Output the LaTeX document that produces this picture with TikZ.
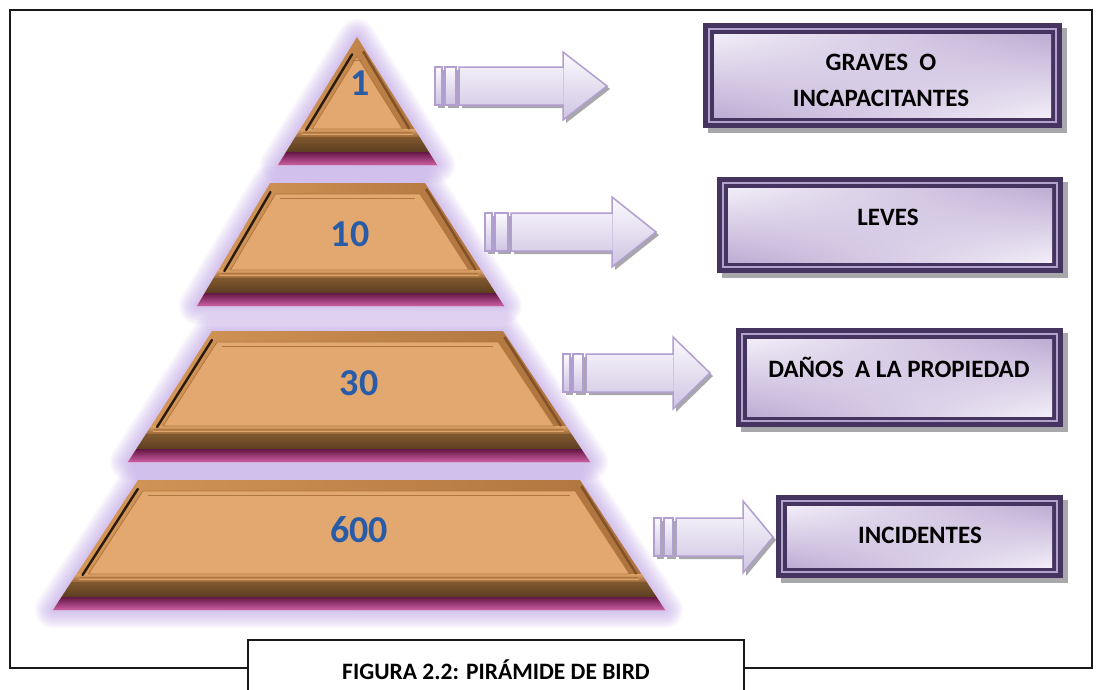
\documentclass[tikz,border=0pt]{standalone}
\usepackage{fontspec}
\setmainfont{Carlito}
\usetikzlibrary{calc,shadings}

\definecolor{glowc}{RGB}{180,145,228}
\definecolor{framelt}{RGB}{214,152,90}
\definecolor{framedk}{RGB}{172,114,60}
\definecolor{ledgetop}{RGB}{222,164,104}
\definecolor{ledgebot}{RGB}{150,100,55}
\definecolor{panelc}{RGB}{226,168,112}
\definecolor{panelln}{RGB}{176,118,64}
\definecolor{bandtop}{RGB}{128,88,46}
\definecolor{bandbot}{RGB}{92,62,34}
\definecolor{magtop}{RGB}{100,22,68}
\definecolor{magbot}{RGB}{205,95,165}
\definecolor{groove}{RGB}{40,26,12}
\definecolor{rightln}{RGB}{130,82,40}
\definecolor{numblue}{RGB}{40,92,168}
\definecolor{arrln}{RGB}{178,158,208}
\definecolor{arrtop}{RGB}{252,250,254}
\definecolor{arrbot}{RGB}{206,196,226}
\definecolor{shadowc}{RGB}{168,168,172}
\definecolor{boxdark}{RGB}{70,52,96}
\definecolor{boxgap}{RGB}{178,162,204}
\definecolor{boxlt}{RGB}{242,238,248}
\definecolor{boxdk}{RGB}{190,172,212}
\definecolor{linec}{RGB}{25,25,25}

\tikzset{
  numtxt/.style={font=\bfseries\fontsize{38}{38}\selectfont, text=numblue, inner sep=0pt},
  boxtxt/.style={font=\bfseries\fontsize{25}{36}\selectfont, text=black, align=center, inner sep=0pt},
  captxt/.style={font=\bfseries\fontsize{23.5}{28}\selectfont, text=black, draw=linec, line width=1.1pt,
                 minimum width=496pt, minimum height=60pt, inner sep=0pt},
  arrowbody/.style={top color=arrtop, bottom color=arrbot, draw=arrln, line width=1.5pt},
  arrowshadow/.style={fill=shadowc},
  framestroke/.style={draw=linec, line width=1.1pt},
  boxframe/.style={inner sep=0pt, draw=none},
}

% #1 name #2 TLx #3 TRx #4 BLx #5 BRx #6 top y #7 bottom y
\newcommand\pyrtier[7]{%
  \pgfmathsetmacro\sL{(#4-#2)/(#7-#6)}%
  \pgfmathsetmacro\sR{(#5-#3)/(#7-#6)}%
  \pgfmathsetmacro\yM{#7-13}%
  \pgfmathsetmacro\yB{#7-28}%
  \pgfmathsetmacro\yP{#7-36}%
  \pgfmathsetmacro\yT{#6+max(11,(24-(#3-#2))/(\sR-\sL))}%
  \pgfmathsetmacro\lM{#4-(\sL)*13}\pgfmathsetmacro\rM{#5-(\sR)*13}%
  \pgfmathsetmacro\lB{#4-(\sL)*28}\pgfmathsetmacro\rB{#5-(\sR)*28}%
  \pgfmathsetmacro\lP{#4-(\sL)*36}\pgfmathsetmacro\rP{#5-(\sR)*36}%
  \pgfmathsetmacro\lPb{\lP+12}\pgfmathsetmacro\rPb{\rP-12}%
  \pgfmathsetmacro\lPt{#4-(\sL)*(#7-\yT)+12}\pgfmathsetmacro\rPt{#5-(\sR)*(#7-\yT)-12}%
  \coordinate (#1-tl) at (#2,#6);
  \coordinate (#1-tr) at (#3,#6);
  \coordinate (#1-bl) at (#4,#7);
  \coordinate (#1-br) at (#5,#7);
  \foreach \w in {36,32,28,24,20,16,12,8,5}{%
    \draw[glowc, line width=\w pt, opacity=0.075, line join=round] (#1-tl)--(#1-tr)--(#1-br)--(#1-bl)--cycle;}
  \shade[left color=framelt, right color=framedk] (#1-tl)--(#1-tr)--(#1-br)--(#1-bl)--cycle;
  \shade[top color=ledgetop, bottom color=ledgebot] (\lP,\yP)--(\rP,\yP)--(\rB,\yB)--(\lB,\yB)--cycle;
  \draw[panelln, line width=1pt] (\lP+3,\yP+3)--(\rP-3,\yP+3);
  \draw[ledgetop, line width=0.8pt] (\lP+2,\yP+5)--(\rP-2,\yP+5);
  \shade[top color=bandtop, bottom color=bandbot] (\lB,\yB)--(\rB,\yB)--(\rM,\yM)--(\lM,\yM)--cycle;
  \shade[top color=magtop, bottom color=magbot] (\lM,\yM)--(\rM,\yM)--(#1-br)--(#1-bl)--cycle;
  \draw[rightln, line width=2.5pt] (\rPt+6,\yT-5)--(\rPb+7,\yP);
  \fill[panelc, draw=panelln, line width=0.8pt] (\lPt,\yT)--(\rPt,\yT)--(\rPb,\yP)--(\lPb,\yP)--cycle;
  \draw[panelln, line width=0.6pt] (\lPt+5,\yT+4)--(\rPt-5,\yT+4);
  \draw[groove, line width=2.4pt, line cap=round] (\lPt-5,\yT-2)--(\lPb-6,\yP+1);
}

% #1 name #2 x0 #3 xb #4 xh #5 xt #6 yc #7 half head
\newcommand\blockarrow[7]{%
  \pgfmathsetmacro\ya{#6-19}\pgfmathsetmacro\yb{#6+19}%
  \pgfmathsetmacro\yha{#6-#7}\pgfmathsetmacro\yhb{#6+#7}%
  \begin{scope}[shift={(3,3)}]
    \fill[arrowshadow] (#2,\ya) rectangle (#2+7,\yb);
    \fill[arrowshadow] (#2+10,\ya) rectangle (#3-3,\yb);
    \fill[arrowshadow] (#3,\ya)--(#4,\ya)--(#4,\yha)--(#5,#6)--(#4,\yhb)--(#4,\yb)--(#3,\yb)--cycle;
  \end{scope}
  \path[arrowbody] (#2,\ya) rectangle (#2+7,\yb);
  \path[arrowbody] (#2+10,\ya) rectangle (#3-3,\yb);
  \path[arrowbody] (#3,\ya)--(#4,\ya)--(#4,\yha)--(#5,#6)--(#4,\yhb)--(#4,\yb)--(#3,\yb)--cycle;
  \draw[arrln!60!white, line width=0.6pt] (#4,\ya+1)--(#4,\yb-1);
  \coordinate (#1) at (#5,#6);
}

% #1 name #2 x1 #3 y1 #4 x2 #5 y2
\newcommand\purplebox[5]{%
  \fill[shadowc] (#2+5,#3+5) rectangle (#4+5,#5+5);
  \fill[boxdark] (#2,#3) rectangle (#4,#5);
  \fill[boxgap] (#2+5,#3+5) rectangle (#4-5,#5-5);
  \fill[boxdark] (#2+7,#3+7) rectangle (#4-7,#5-7);
  \shade[upper left=boxlt, upper right=boxdk, lower left=boxdk, lower right=boxlt] (#2+11,#3+11) rectangle (#4-11,#5-11);
  \node[boxframe, minimum width={#4-#2}, minimum height={#5-#3}] (#1) at ({(#2+#4)/2},{(#3+#5)/2}) {};
}

\begin{document}
\begin{tikzpicture}[x=1pt,y=-1pt]
\useasboundingbox (0,0) rectangle (1103,689);
\fill[white] (0,0) rectangle (1103,689);

% outer frame
\coordinate (fl) at (248,668);
\coordinate (fr) at (744,668);
\draw[framestroke] (fl) -- (10,668) -- (10,10) -- (1092,10) -- (1092,668) -- (fr);
\node[captxt] (cap) at (496,670) {FIGURA 2.2: PIRÁMIDE DE BIRD};

% pyramid
\pyrtier{t4}{138}{580}{53}{665}{480}{610}
\pyrtier{t3}{212}{503}{128}{590}{331}{462}
\pyrtier{t2}{270}{425}{197}{504}{183}{306}
\pyrtier{t1}{357}{357}{278}{437}{37}{165}

\node[numtxt] (n1) at (360,83) {1};
\node[numtxt] (n2) at (350,234) {10};
\node[numtxt] (n3) at (359,383) {30};
\node[numtxt] (n4) at (359,530) {600};

% arrows
\blockarrow{a1}{435}{459}{563}{607}{86}{34}
\blockarrow{a2}{485}{511}{612}{656}{232}{35}
\blockarrow{a3}{563}{586}{673}{710}{373}{36}
\blockarrow{a4}{654}{676}{743}{773}{537}{36}

% boxes
\purplebox{b1}{703}{23}{1062}{128}
\purplebox{b2}{717}{177}{1063}{273}
\purplebox{b3}{736}{328}{1063}{427}
\purplebox{b4}{776}{495}{1063}{578}

\node[boxtxt] (l1) at (881,80) {GRAVES\ \ O\\INCAPACITANTES};
\node[boxtxt] (l2) at (888,217) {LEVES};
\node[boxtxt] (l3) at (899,367) {DAÑOS\ \ A LA PROPIEDAD};
\node[boxtxt] (l4) at (920,535) {INCIDENTES};
\end{tikzpicture}
\end{document}
